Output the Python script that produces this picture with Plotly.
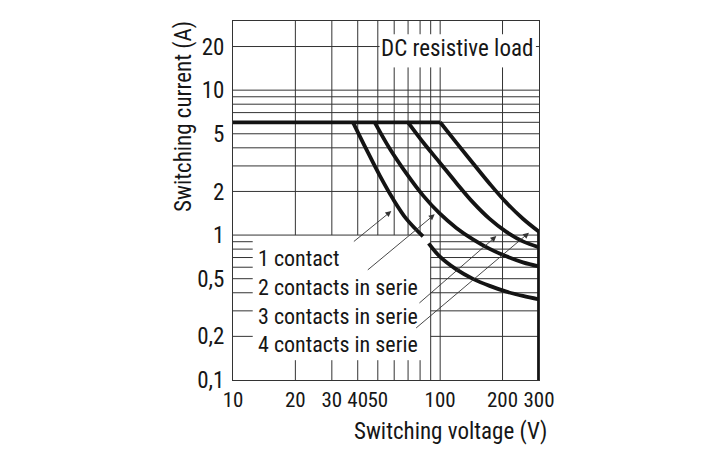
import numpy as np
import plotly.graph_objects as go

FONT = "Liberation Sans Narrow, Arial Narrow, Roboto Condensed, DejaVu Sans Condensed, Liberation Sans, sans-serif"
TXT = "#161616"
GRID = "#333333"
INK = "#141414"
FS = 22
FS_BIG = 23

# ---- axis ticks ----
x_ticks = [10, 20, 30, 40, 50, 100, 200, 300]
x_tick_text = ["10", "20", "30", "40", "50", "100", "200", "300"]
y_ticks = [0.1, 0.2, 0.5, 1, 2, 5, 10, 20]
y_tick_text = ["0,1", "0,2", "0,5", "1", "2", "5", "10", "20"]

# ---- limit curves (V, A) ----
flat_v = [10, 100]
flat_a = [6, 6]

c1_v = [37.95, 44.04, 51.05, 59.17, 68.69, 82.6]
c1_a = [6, 3.90, 2.58, 1.778, 1.293, 0.98]

c1b_v = [88.0, 99.45, 119.7, 144.0, 173.4, 208.7, 250.9, 300]
c1b_a = [0.877, 0.713, 0.580, 0.499, 0.446, 0.407, 0.380, 0.360]

c2_v = [48.3, 57.04, 68.69, 82.6, 99.45, 119.7, 144.0, 173.4, 208.7, 250.9, 300]
c2_a = [6, 3.96, 2.665, 1.879, 1.411, 1.121, 0.934, 0.803, 0.713, 0.648, 0.608]

c3_v = [69.92, 83.25, 99.45, 119.7, 144.0, 173.4, 208.7, 250.9, 300]
c3_a = [6, 4.32, 3.17, 2.29, 1.681, 1.293, 1.052, 0.905, 0.823]

c4_v = [100, 119.7, 144.0, 173.4, 208.7, 250.9, 300]
c4_a = [6, 4.34, 3.13, 2.262, 1.673, 1.297, 1.055]

limit_v = [300, 300]
limit_a = [1.055, 0.1]

# ---- labels and arrows ----
labels = ["1 contact", "2 contacts in serie", "3 contacts in serie", "4 contacts in serie"]
label_v = [12.95, 12.95, 12.95, 12.95]
label_a = [0.688, 0.434, 0.274, 0.176]
arrow_tail_v = [37.7, 44.0, 78.1, 75.3]
arrow_tail_a = [0.886, 0.564, 0.333, 0.224]
arrow_head_v = [58.1, 94.1, 186.7, 268.3]
arrow_head_a = [1.464, 1.39, 0.984, 1.039]

title_text = "DC resistive load"

# ---- grid segments ----
X0, X1 = 10, 300
Y0, Y1 = 0.1, 30
gx, gy = [], []

def seg(xa, ya, xb, yb):
    gx.extend([xa, xb, None])
    gy.extend([ya, yb, None])

for v in [20, 30, 40, 50]:
    seg(v, Y1, v, 1)
    seg(v, 0.137, v, Y0)
for v in [60, 70, 80]:
    seg(v, Y1, v, 24.3)
    seg(v, 14.35, v, 1)
    seg(v, 0.137, v, Y0)
for v in [90, 100, 200]:
    seg(v, Y1, v, 24.3)
    seg(v, 14.35, v, Y0)

seg(X0, 20, 51, 20)
seg(290, 20, X1, 20)
for a in [1, 2, 3, 4, 5, 6, 7, 8, 9, 10]:
    seg(X0, a, X1, a)
for a in [0.2, 0.3, 0.4, 0.5, 0.6, 0.7, 0.8, 0.9]:
    seg(X0, a, 12.45, a)
    seg(90, a, X1, a)

fig = go.Figure()
fig.add_trace(go.Scatter(x=gx, y=gy, mode="lines", line=dict(color=GRID, width=1),
                         hoverinfo="skip", showlegend=False))

thick = dict(color=INK, width=3.8)
fig.add_trace(go.Scatter(x=flat_v, y=flat_a, mode="lines", line=thick, showlegend=False))
for vv, aa in [(c1_v, c1_a), (c1b_v, c1b_a), (c2_v, c2_a), (c3_v, c3_a), (c4_v, c4_a)]:
    fig.add_trace(go.Scatter(x=vv, y=aa, mode="lines",
                             line=dict(color=INK, width=3.8, shape="spline", smoothing=1.0),
                             showlegend=False))
fig.add_trace(go.Scatter(x=limit_v, y=limit_a, mode="lines", line=thick, showlegend=False))

ann = []
for t, v, a in zip(labels, label_v, label_a):
    ann.append(dict(x=np.log10(v), y=np.log10(a), xref="x", yref="y", text=t,
                    showarrow=False, xanchor="left", yanchor="middle",
                    font=dict(family=FONT, size=FS, color=TXT)))
for tv, ta, hv, ha in zip(arrow_tail_v, arrow_tail_a, arrow_head_v, arrow_head_a):
    ann.append(dict(x=np.log10(hv), y=np.log10(ha), ax=np.log10(tv), ay=np.log10(ta),
                    xref="x", yref="y", axref="x", ayref="y", text="", showarrow=True,
                    arrowhead=2, arrowsize=1.3, arrowwidth=0.9, arrowcolor="#333333",
                    standoff=0, startstandoff=0))
ann.append(dict(x=np.log10(50.6), y=np.log10(19.3), xref="x", yref="y", text=title_text,
                showarrow=False, xanchor="left", yanchor="middle",
                font=dict(family=FONT, size=FS_BIG, color=TXT)))
ann.append(dict(x=-0.164, y=0.735, xref="paper", yref="paper", text="Switching current (A)",
                showarrow=False, textangle=-90, xanchor="center", yanchor="middle",
                font=dict(family=FONT, size=FS_BIG, color=TXT)))
ann.append(dict(x=1.032, y=-0.143, xref="paper", yref="paper", text="Switching voltage (V)",
                showarrow=False, xanchor="right", yanchor="middle",
                font=dict(family=FONT, size=FS_BIG, color=TXT)))

# the page body adds an 8 px offset, so the figure is sized and margined to compensate
fig.update_layout(
    width=713, height=451,
    margin=dict(l=225, r=182, t=13, b=79),
    paper_bgcolor="white", plot_bgcolor="white",
    font=dict(family=FONT, size=FS, color=TXT),
    annotations=ann,
)
fig.update_xaxes(type="log", range=[1, np.log10(300)], tickvals=x_ticks, ticktext=x_tick_text,
                 showgrid=False, zeroline=False, showline=True, mirror=True,
                 linecolor=GRID, linewidth=1, ticks="", ticklabelstandoff=1, tickangle=0,
                 automargin=False, tickfont=dict(family=FONT, size=21, color=TXT))
fig.update_yaxes(type="log", range=[-1, np.log10(30)], tickvals=y_ticks, ticktext=y_tick_text,
                 showgrid=False, zeroline=False, showline=True, mirror=True,
                 linecolor=GRID, linewidth=1, ticks="", ticklabelstandoff=3,
                 automargin=False, tickfont=dict(family=FONT, size=FS_BIG, color=TXT))

fig.write_html("out.html")
